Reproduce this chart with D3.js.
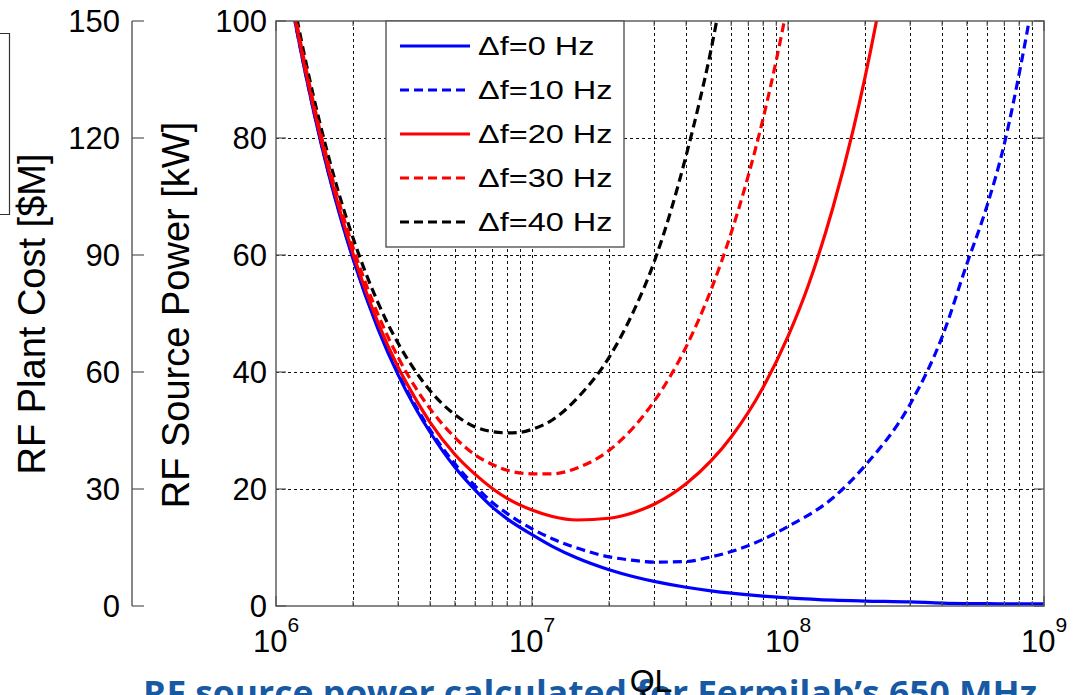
<!DOCTYPE html>
<html><head><meta charset="utf-8">
<script src="https://cdn.jsdelivr.net/npm/d3@7"></script>
<style>html,body{margin:0;padding:0;background:#fff;overflow:hidden}text{font-family:"Liberation Sans",Arial,sans-serif}</style>
</head><body><svg id="c" width="1075" height="695"></svg>
<script>
// ---- data (QL in units of 1e6, power in kW) ----
const seriesNames = ["\u0394f=0 Hz", "\u0394f=10 Hz", "\u0394f=20 Hz", "\u0394f=30 Hz", "\u0394f=40 Hz"];
const seriesColors = ["#0000ff", "#0000ff", "#ff0000", "#ff0000", "#000000"];
const seriesDashed = [false, true, false, true, true];

const qlDf0 = [1.1,1.2,1.4,1.6,1.8,2,2.5,3,3.5,4,5,6,7,8,10,12,15,20,25,30,40,50,60,80,100,150,200,300,400,600,800,1000];
const pDf0  = [107.8,98.8,84.7,74.1,65.9,59.3,47.4,39.5,33.9,29.7,23.7,19.8,16.9,14.9,12.2,10.2,8.2,6.2,5.0,4.2,3.2,2.6,2.2,1.7,1.4,1.0,0.85,0.7,0.5,0.4,0.35,0.35];

const qlDf10 = [1.1,1.2,1.4,1.6,1.8,2,2.5,3,3.5,4,5,6,7,8,10,12,15,20,25,30,40,50,60,80,100,150,200,300,400,500,600,700,800,900];
const pDf10  = [107.9,98.9,84.9,74.3,66.1,59.5,47.7,39.8,34.3,30.1,24.3,20.5,17.7,15.8,13.2,11.5,9.9,8.4,7.8,7.5,7.6,8.4,9.3,11.4,13.6,18.5,24,34.5,46,58.5,68.5,79,91,103];

const qlDf20 = [1.1,1.2,1.4,1.6,1.8,2,2.5,3,3.5,4,5,6,7,8,10,12,15,20,25,30,40,50,60,80,100,120,150,180,200,220,240];
const pDf20  = [108.3,99.3,85.3,74.8,66.7,60.2,48.5,40.8,35.5,31.4,25.9,22.5,20.1,18.4,16.4,15.3,14.7,15.0,16.0,17.4,20.9,24.8,28.9,37.4,46.1,54.8,68.2,81.5,90.4,99.3,108.2];

const qlDf30 = [1.1,1.2,1.4,1.6,1.8,2,2.5,3,3.5,4,5,6,7,8,10,12,15,20,25,30,40,50,60,70,80,90,100];
const pDf30  = [108.9,100.0,86.1,75.7,67.7,61.3,49.9,42.5,37.4,33.7,28.8,25.8,24.2,23.2,22.6,22.6,23.6,26.6,30.6,35.0,44.3,54.0,63.8,73.6,83.4,93.3,103.2];

const qlDf40 = [1.1,1.2,1.4,1.6,1.8,2,2.5,3,3.5,4,5,6,7,8,9,10,12,15,20,25,30,35,40,45,50,55];
const pDf40  = [109.8,101.0,87.2,77.0,69.1,62.9,51.9,44.9,40.2,36.8,32.7,30.6,29.8,29.6,29.7,30.2,31.8,35.5,42.5,50.5,58.8,67.8,77,86,95,104.5];

const xTickExps = [6, 7, 8, 9];
const yTicksPower = [0, 20, 40, 60, 80, 100];
const yTicksCost = [0, 30, 60, 90, 120, 150];
const xLabel = "QL";
const yLabelPower = "RF Source Power [kW]";
const yLabelCost = "RF Plant Cost [$M]";
const captionText = "RF source power calculated for Fermilab\u2019s 650 MHz";

// ---- layout ----
const L = 276, R = 1044, T = 21, B = 606;
const svg = d3.select("#c");
const x = d3.scaleLog().domain([1e6, 1e9]).range([L, R]);
const y = d3.scaleLinear().domain([0, 100]).range([B, T]);
const yc = d3.scaleLinear().domain([0, 150]).range([B, T]);
const axisCol = "#555";

// partial box at far left (cropped panel)
svg.append("path").attr("d", "M0,33.5H9.5V214.5H0").attr("fill", "none").attr("stroke", "#333").attr("stroke-width", 1.2);

// grid
const g = svg.append("g").attr("shape-rendering", "crispEdges");
const minorVals = [];
for (let e = 6; e < 9; e++) for (let k = 2; k <= 9; k++) minorVals.push(k * Math.pow(10, e));
const gridX = minorVals.concat([1e7, 1e8]);
g.selectAll("line.gx").data(gridX).enter().append("line")
  .attr("x1", d => Math.round(x(d)) + 0.5).attr("x2", d => Math.round(x(d)) + 0.5).attr("y1", T).attr("y2", B)
  .attr("stroke", "#111").attr("stroke-width", 1).attr("stroke-dasharray", "3,3");
g.selectAll("line.gy").data([20, 40, 60, 80]).enter().append("line")
  .attr("x1", L).attr("x2", R).attr("y1", d => Math.round(y(d)) + 0.5).attr("y2", d => Math.round(y(d)) + 0.5)
  .attr("stroke", "#111").attr("stroke-width", 1).attr("stroke-dasharray", "3,3");

// curves
svg.append("clipPath").attr("id", "clip").append("rect").attr("x", L).attr("y", T).attr("width", R - L).attr("height", B - T);
const allQ = [qlDf0, qlDf10, qlDf20, qlDf30, qlDf40];
const allP = [pDf0, pDf10, pDf20, pDf30, pDf40];
const line = d3.line().x(d => x(d[0] * 1e6)).y(d => y(d[1])).curve(d3.curveMonotoneX);
const order = [0, 1, 4, 3, 2];
const cg = svg.append("g").attr("clip-path", "url(#clip)");
order.forEach(i => {
  const pts = allQ[i].map((q, j) => [q, allP[i][j]]);
  cg.append("path").attr("d", line(pts)).attr("fill", "none")
    .attr("stroke", seriesColors[i]).attr("stroke-width", 3.2)
    .attr("stroke-dasharray", seriesDashed[i] ? "9,5" : null)
    .attr("stroke-linejoin", "round");
});

// box & ticks
svg.append("rect").attr("x", L).attr("y", T).attr("width", R - L).attr("height", B - T)
  .attr("fill", "none").attr("stroke", axisCol).attr("stroke-width", 1.4);
const tk = svg.append("g").attr("stroke", axisCol).attr("stroke-width", 1.2);
xTickExps.forEach(e => {
  const px = x(Math.pow(10, e));
  tk.append("line").attr("x1", px).attr("x2", px).attr("y1", B).attr("y2", B - 10);
  tk.append("line").attr("x1", px).attr("x2", px).attr("y1", T).attr("y2", T + 10);
});
minorVals.forEach(v => {
  const px = x(v);
  tk.append("line").attr("x1", px).attr("x2", px).attr("y1", B).attr("y2", B - 5);
  tk.append("line").attr("x1", px).attr("x2", px).attr("y1", T).attr("y2", T + 5);
});
yTicksPower.forEach(v => {
  tk.append("line").attr("x1", L).attr("x2", L + 10).attr("y1", y(v)).attr("y2", y(v));
  tk.append("line").attr("x1", R).attr("x2", R - 10).attr("y1", y(v)).attr("y2", y(v));
});

// y tick labels (power)
svg.selectAll("text.yp").data(yTicksPower).enter().append("text")
  .attr("x", L - 9).attr("y", d => y(d)).attr("dy", "0.35em").attr("text-anchor", "end")
  .attr("font-size", 31).text(d => d);

// x tick labels
xTickExps.forEach(e => {
  const px = x(Math.pow(10, e));
  const t = svg.append("text").attr("x", px - 23).attr("y", 652).attr("font-size", 31);
  t.append("tspan").text("10");
  t.append("tspan").attr("font-size", 21).attr("dy", -20).text(e);
});

// cost axis
svg.append("line").attr("x1", 132).attr("x2", 132).attr("y1", T).attr("y2", B).attr("stroke", axisCol).attr("stroke-width", 1.4);
yTicksCost.forEach(v => {
  svg.append("line").attr("x1", 132).attr("x2", 144).attr("y1", yc(v)).attr("y2", yc(v)).attr("stroke", axisCol).attr("stroke-width", 1.2);
});
svg.selectAll("text.yc").data(yTicksCost).enter().append("text")
  .attr("x", 120).attr("y", d => yc(d)).attr("dy", "0.35em").attr("text-anchor", "end")
  .attr("font-size", 31).text(d => d);

// axis labels
svg.append("text").attr("transform", "translate(45,314) rotate(-90)").attr("text-anchor", "middle")
  .attr("font-size", 38).text(yLabelCost);
svg.append("text").attr("transform", "translate(189,315) rotate(-90)").attr("text-anchor", "middle")
  .attr("font-size", 38).text(yLabelPower);

// legend
const lg = svg.append("g");
lg.append("rect").attr("x", 386).attr("y", T).attr("width", 238).attr("height", 226)
  .attr("fill", "#fff").attr("stroke", axisCol).attr("stroke-width", 1.4);
const legY = [46, 90, 134, 178, 222];
seriesNames.forEach((n, i) => {
  lg.append("line").attr("x1", 400).attr("x2", 470).attr("y1", legY[i]).attr("y2", legY[i])
    .attr("stroke", seriesColors[i]).attr("stroke-width", 3.2)
    .attr("stroke-dasharray", seriesDashed[i] ? "9,5" : null);
  lg.append("text").attr("transform", `translate(478,${legY[i] + 9}) scale(1.25,1)`)
    .attr("font-size", 26).text(n);
});

// caption (cropped) and x label on top
svg.append("text").attr("x", 143).attr("y", 705)
  .style("font-family", "'Open Sans',sans-serif").attr("font-weight", 700).attr("font-size", 34)
  .attr("fill", "#175aa3").attr("textLength", 894).attr("lengthAdjust", "spacingAndGlyphs").text(captionText);
svg.append("text").attr("x", 651).attr("y", 692).attr("text-anchor", "middle").attr("font-size", 32).text(xLabel);
</script></body></html>
